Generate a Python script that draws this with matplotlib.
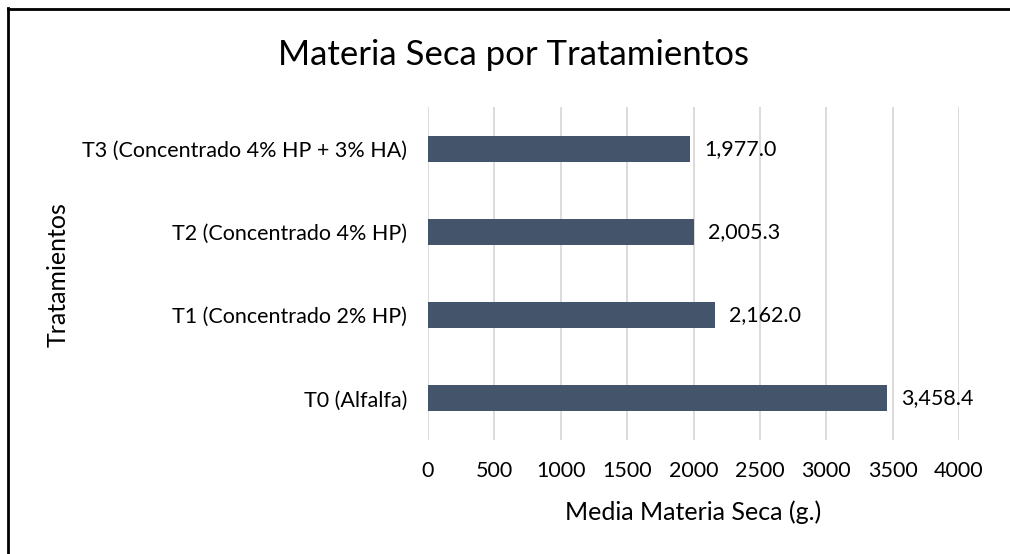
import matplotlib
matplotlib.use("Agg")
import matplotlib.pyplot as plt
from matplotlib.lines import Line2D

categories = ["T0 (Alfalfa)", "T1 (Concentrado 2% HP)", "T2 (Concentrado 4% HP)", "T3 (Concentrado 4% HP + 3% HA)"]
values = [3458.4, 2162.0, 2005.3, 1977.0]
xticks = [0, 500, 1000, 1500, 2000, 2500, 3000, 3500, 4000]

plt.rcParams['font.family'] = ['Lato', 'DejaVu Sans']
W, H = 1010, 554
fig = plt.figure(figsize=(W/100, H/100), dpi=100)
ax = fig.add_axes([428/W, 1-440/H, (959-428)/W, (440-107)/H])

ypos = list(range(len(categories)))
ax.barh(ypos, values, height=0.31, color="#44546A", zorder=3)
for y, v in zip(ypos, values):
    ax.annotate(f"{v:,.1f}", (v, y), xytext=(10, 0), textcoords="offset points",
                va="center", ha="left", fontsize=15.5, color="#000000")

ax.set_xlim(0, 4000)
ax.set_ylim(-0.5, 3.5)
ax.set_xticks(xticks)
ax.set_xticklabels([str(t) for t in xticks], fontsize=15.5)
ax.set_yticks(ypos)
ax.set_yticklabels(categories, fontsize=15.5)
ax.tick_params(axis='y', length=0, pad=15)
ax.tick_params(axis='x', length=0, pad=15)
ax.grid(axis='x', color="#D9D9D9", linewidth=1.3, zorder=0)
for s in ax.spines.values():
    s.set_visible(False)
fig.text(693/W, 1-512/H, "Media Materia Seca (g.)", fontsize=18, ha="center", va="center")
fig.text(58/W, 1-275/H, "Tratamientos", rotation=90, fontsize=18, ha="center", va="center")
fig.text(513/W, 1-55/H, "Materia Seca por Tratamientos", fontsize=25, ha="center", va="center")

fig.add_artist(Line2D([7.5/W, 7.5/W], [0, 1-8/H], color="black", linewidth=2, transform=fig.transFigure))
fig.add_artist(Line2D([7.5/W, 1], [1-8.5/H, 1-8.5/H], color="black", linewidth=2, transform=fig.transFigure))

fig.savefig("out.png", dpi=100)
